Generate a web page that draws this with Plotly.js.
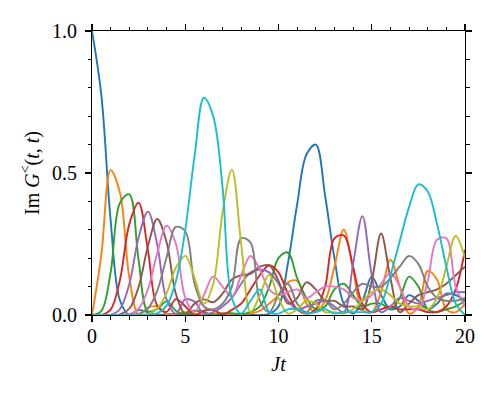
<!DOCTYPE html>
<html>
<head>
<meta charset="utf-8">
<script src="https://cdn.plot.ly/plotly-3.0.1.min.js"></script>
<style>html,body{margin:0;padding:0;background:#fff}#chart{width:500px;height:400px}</style>
</head>
<body>
<div id="chart"></div>
<script>
// time grid (Jt)
const t = [0,0.5,1,1.5,2,2.5,3,3.5,4,4.5,5,5.5,6,6.5,7,7.5,8,8.5,9,9.5,10,10.5,11,11.5,12,12.5,13,13.5,14,14.5,15,15.5,16,16.5,17,17.5,18,18.5,19,19.5,20];

// Im G^<(t,t) per site
const site1 = [1.0,0.775,0.333,0.051,0.001,0.017,0.009,0.0,0.003,0.003,0.0,0.001,0.001,0.0,0.0,0.001,0.0,0.0,0.0,0.004,0.03,0.18,0.39,0.565,0.6,0.42,0.2,0.04,0.005,0.05,0.135,0.07,0.02,0.03,0.07,0.05,0.02,0.04,0.075,0.07,0.05];
const site2 = [0,0.211,0.51,0.43,0.133,0.002,0.026,0.03,0.003,0.004,0.01,0.003,0.001,0.005,0.002,0.0,0.003,0.005,0.015,0.04,0.07,0.115,0.12,0.04,0.01,0.05,0.17,0.30,0.16,0.02,0.01,0.08,0.195,0.1,0.005,0.03,0.155,0.125,0.02,0.01,0.04];
const site3 = [0,0.014,0.15,0.395,0.425,0.192,0.013,0.021,0.048,0.015,0.001,0.015,0.01,0.0,0.006,0.006,0.003,0.01,0.03,0.1,0.2,0.22,0.13,0.06,0.02,0.03,0.09,0.11,0.07,0.03,0.04,0.04,0.02,0.06,0.135,0.1,0.02,0.01,0.02,0.03,0.05];
const site4 = [0,0.0,0.019,0.124,0.32,0.395,0.227,0.033,0.011,0.056,0.031,0.0,0.015,0.018,0.002,0.018,0.04,0.09,0.14,0.175,0.15,0.075,0.02,0.005,0.02,0.1,0.27,0.28,0.17,0.04,0.01,0.02,0.03,0.02,0.02,0.02,0.01,0.01,0.03,0.09,0.23];
const site5 = [0,0,0.001,0.021,0.109,0.273,0.364,0.247,0.054,0.004,0.055,0.047,0.004,0.01,0.03,0.06,0.11,0.15,0.16,0.15,0.11,0.05,0.02,0.03,0.04,0.05,0.03,0.01,0.18,0.348,0.14,0.01,0.03,0.06,0.05,0.04,0.05,0.06,0.07,0.08,0.08];
const site6 = [0,0,0,0.002,0.022,0.099,0.242,0.338,0.256,0.074,0.005,0.04,0.055,0.045,0.075,0.125,0.14,0.145,0.17,0.175,0.12,0.04,0.06,0.115,0.09,0.05,0.05,0.03,0.03,0.02,0.12,0.287,0.13,0.01,0.04,0.07,0.08,0.09,0.11,0.14,0.17];
const site7 = [0,0,0,0,0.003,0.022,0.091,0.218,0.314,0.25,0.06,0.01,0.07,0.135,0.1,0.065,0.14,0.208,0.16,0.09,0.07,0.08,0.09,0.06,0.08,0.1,0.1,0.09,0.06,0.05,0.07,0.11,0.148,0.1,0.03,0.02,0.12,0.265,0.27,0.1,0.03];
const site8 = [0,0,0,0,0.0005,0.004,0.023,0.086,0.203,0.31,0.295,0.11,0.03,0.02,0.04,0.1,0.27,0.255,0.05,0.01,0.07,0.11,0.04,0.01,0.05,0.05,0.02,0.04,0.08,0.11,0.1,0.1,0.13,0.17,0.208,0.18,0.1,0.06,0.05,0.05,0.06];
const site9 = [0,0,0,0,0,0.001,0.004,0.022,0.077,0.167,0.208,0.13,0.04,0.11,0.36,0.512,0.25,0.01,0.07,0.142,0.06,0.005,0.02,0.05,0.04,0.01,0.01,0.005,0.02,0.05,0.08,0.09,0.07,0.04,0.03,0.03,0.02,0.06,0.17,0.278,0.2];
const site10 = [0,0,0,0,0,0,0.001,0.006,0.033,0.12,0.3,0.56,0.765,0.7,0.45,0.06,0.005,0.05,0.09,0.01,0.005,0.02,0.02,0.005,0.01,0.02,0.005,0.01,0.01,0.01,0.01,0.04,0.14,0.26,0.38,0.46,0.435,0.32,0.17,0.04,0.0];

// tick positions
const xMajor = [0,5,10,15,20];
const yMajor = [0,0.5,1];

const series = [site1,site2,site3,site4,site5,site6,site7,site8,site9,site10];
const colors = ['#1f77b4','#ff7f0e','#2ca02c','#d62728','#9467bd','#8c564b','#e377c2','#7f7f7f','#bcbd22','#17becf'];

const traces = series.map((y,i)=>({
  x: t, y: y, type: 'scatter', mode: 'lines',
  line: {color: colors[i], width: 1.9, shape: 'spline', smoothing: 1},
  hoverinfo: 'skip', showlegend: false
}));

const fontFam = 'Liberation Serif, DejaVu Serif, serif';

const layout = {
  width: 500, height: 400,
  margin: {l: 92, r: 35, t: 31, b: 85},
  paper_bgcolor: '#fff', plot_bgcolor: '#fff',
  font: {family: fontFam, size: 20, color: '#000'},
  xaxis: {
    range: [0, 20], tickmode: 'array', tickvals: xMajor, ticktext: xMajor.map(String),
    showline: true, linecolor: 'black', linewidth: 1, mirror: 'ticks',
    ticks: 'outside', ticklen: 6, tickwidth: 1.2, tickcolor: 'black',
    showgrid: false, zeroline: false, ticklabelstandoff: -3,
    minor: {dtick: 1, ticks: 'outside', ticklen: 3.5, tickwidth: 1, tickcolor: 'black', showgrid: false},
    tickfont: {family: fontFam, size: 20, color: 'black'},
    title: {text: '<i>Jt</i>', font: {family: fontFam, size: 20, color: 'black'}, standoff: 10}
  },
  yaxis: {
    range: [0, 1], tickmode: 'array', tickvals: yMajor, ticktext: yMajor.map(v=>v.toFixed(1)),
    showline: true, linecolor: 'black', linewidth: 1, mirror: 'ticks',
    ticks: 'outside', ticklen: 6, tickwidth: 1.2, tickcolor: 'black',
    showgrid: false, zeroline: false, ticklabelstandoff: 4,
    minor: {dtick: 0.1, ticks: 'outside', ticklen: 3.5, tickwidth: 1, tickcolor: 'black', showgrid: false},
    tickfont: {family: fontFam, size: 20, color: 'black'},
    title: {text: 'Im <i>G</i><sup>&lt;</sup>(<i>t</i>, <i>t</i>)', font: {family: fontFam, size: 20, color: 'black'}, standoff: 7}
  }
};

Plotly.newPlot('chart', traces, layout, {displayModeBar: false, staticPlot: true});
</script>
</body>
</html>
